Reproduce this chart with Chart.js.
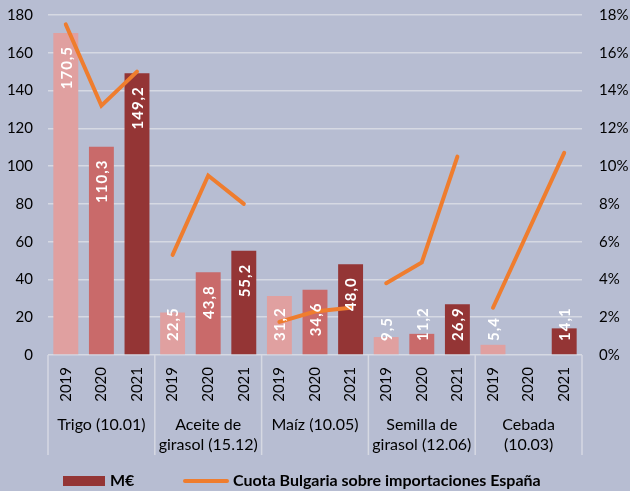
<!DOCTYPE html>
<html>
<head>
<meta charset="utf-8">
<script src="https://cdn.jsdelivr.net/npm/chart.js@4"></script>
<style>
  html, body { margin: 0; padding: 0; background: #b7bdd2; }
  #wrap { width: 630px; height: 491px; position: relative; }
</style>
</head>
<body>
<div id="wrap"><canvas id="c" width="630" height="491"></canvas></div>
<script>
// ---- data ----
const years = ['2019', '2020', '2021'];
const groups = [
  ['Trigo (10.01)'],
  ['Aceite de', 'girasol (15.12)'],
  ['Maíz (10.05)'],
  ['Semilla de', 'girasol (12.06)'],
  ['Cebada', '(10.03)']
];
const valoresMEUR = [170.5, 110.3, 149.2, 22.5, 43.8, 55.2, 31.2, 34.6, 48.0, 9.5, 11.2, 26.9, 5.4, null, 14.1];
const cuotaBulgaria = [17.5, 13.2, 15.0, 5.3, 9.5, 8.0, 1.75, 2.3, 2.5, 3.8, 4.9, 10.5, 2.5, null, 10.7];
const leftTicks = { min: 0, max: 180, step: 20 };
const rightTicks = { min: 0, max: 18, step: 2 };
const seriesNames = ['M€', 'Cuota Bulgaria sobre importaciones España'];

// ---- styles ----
const FONT = "Lato, 'Open Sans', sans-serif";
const BG = '#b7bdd2';
const GRID = '#d6d9e3';
const yearColors = ['#e0a0a0', '#c96a6a', '#943535'];
const ORANGE = '#ef7d2e';

const categories = [];
groups.forEach(() => years.forEach(y => categories.push(y)));
const barColors = categories.map((_, i) => yearColors[i % 3]);

const bgPlugin = {
  id: 'bg',
  beforeDraw(chart) {
    const ctx = chart.ctx;
    ctx.save();
    ctx.fillStyle = BG;
    ctx.fillRect(0, 0, chart.width, chart.height);
    ctx.restore();
  }
};

const groupPlugin = {
  id: 'groups',
  afterDraw(chart) {
    const ctx = chart.ctx;
    const xs = chart.scales.x;
    const area = chart.chartArea;
    const n = years.length;
    const half = (xs.getPixelForValue(1) - xs.getPixelForValue(0)) / 2;
    ctx.save();
    ctx.strokeStyle = GRID;
    ctx.lineWidth = 1.5;
    for (let g = 0; g <= groups.length; g++) {
      let x = g === 0 ? xs.getPixelForValue(0) - half : xs.getPixelForValue(g * n - 1) + half;
      ctx.beginPath();
      ctx.moveTo(x, area.bottom);
      ctx.lineTo(x, area.bottom + 100);
      ctx.stroke();
    }
    ctx.fillStyle = '#000';
    ctx.font = '16px ' + FONT;
    ctx.textAlign = 'center';
    ctx.textBaseline = 'middle';
    groups.forEach((lines, g) => {
      const cx = (xs.getPixelForValue(g * n) + xs.getPixelForValue(g * n + n - 1)) / 2;
      lines.forEach((t, k) => ctx.fillText(t, cx, area.bottom + 70 + k * 20));
    });
    ctx.restore();

    // legend
    const barDs = chart.data.datasets.find(d => d.type === 'bar');
    const lineDs = chart.data.datasets.find(d => d.type === 'line');
    const ly = 481;
    ctx.save();
    ctx.font = 'bold 16px ' + FONT;
    ctx.textBaseline = 'middle';
    ctx.textAlign = 'left';
    let x = 63;
    ctx.fillStyle = yearColors[2];
    ctx.fillRect(x, ly - 5, 42, 10);
    ctx.fillStyle = '#000';
    ctx.fillText(barDs.label, x + 47, ly);
    x = 183;
    ctx.strokeStyle = ORANGE;
    ctx.lineWidth = 4;
    ctx.lineCap = 'round';
    ctx.beginPath();
    ctx.moveTo(x + 2, ly);
    ctx.lineTo(x + 44, ly);
    ctx.stroke();
    ctx.fillText(lineDs.label, x + 50, ly);
    ctx.restore();
  }
};

const labelPlugin = {
  id: 'barLabels',
  afterDatasetsDraw(chart) {
    const ctx = chart.ctx;
    const idx = chart.data.datasets.findIndex(d => d.type === 'bar');
    const meta = chart.getDatasetMeta(idx);
    const base = chart.scales.y.getPixelForValue(0);
    ctx.save();
    ctx.font = 'bold 15px ' + FONT;
    try { ctx.letterSpacing = '1px'; } catch (e) {}
    ctx.fillStyle = '#ffffff';
    ctx.textAlign = 'right';
    ctx.textBaseline = 'middle';
    meta.data.forEach((bar, i) => {
      const v = valoresMEUR[i];
      if (v === null || v === undefined) return;
      const txt = v.toFixed(1).replace('.', ',');
      const w = ctx.measureText(txt).width;
      let top = bar.y + 13;
      if (top + w > base - 14) top = base - 14 - w;
      ctx.save();
      ctx.translate(bar.x + 1, top);
      ctx.rotate(-Math.PI / 2);
      ctx.fillText(txt, 0, 0);
      ctx.restore();
    });
    ctx.restore();
  }
};

const fixY = s => { s.width = 48; s.paddingTop = 0; s.paddingBottom = 0; };

new Chart(document.getElementById('c'), {
  data: {
    labels: categories,
    datasets: [
      {
        type: 'line',
        label: seriesNames[1],
        data: cuotaBulgaria,
        yAxisID: 'y1',
        borderColor: ORANGE,
        backgroundColor: ORANGE,
        borderWidth: 4,
        pointRadius: 0,
        pointHoverRadius: 0,
        spanGaps: true,
        tension: 0,
        borderCapStyle: 'round',
        borderJoinStyle: 'miter',
        order: 1,
        segment: {
          borderColor: c => (Math.floor(c.p0DataIndex / 3) !== Math.floor(c.p1DataIndex / 3)) ? 'rgba(0,0,0,0)' : ORANGE
        }
      },
      {
        type: 'bar',
        label: seriesNames[0],
        data: valoresMEUR,
        yAxisID: 'y',
        backgroundColor: barColors,
        barPercentage: 0.7,
        categoryPercentage: 1.0,
        order: 2
      }
    ]
  },
  options: {
    responsive: false,
    animation: false,
    events: [],
    layout: { padding: { top: 15, bottom: 31, left: 0, right: 0 } },
    plugins: {
      legend: { display: false },
      tooltip: { enabled: false },
      title: { display: false }
    },
    scales: {
      x: {
        type: 'category',
        offset: true,
        grid: { display: false, drawTicks: false },
        border: { display: false },
        ticks: {
          minRotation: 90, maxRotation: 90, padding: 12, autoSkip: false,
          color: '#000', font: { family: FONT, size: 15 }
        },
        afterFit: s => { s.height = 105; s.paddingLeft = 0; s.paddingRight = 0; }
      },
      y: {
        position: 'left',
        min: leftTicks.min, max: leftTicks.max,
        grid: { color: GRID, lineWidth: 1.5, drawTicks: false },
        border: { display: false },
        ticks: {
          stepSize: leftTicks.step, padding: 15,
          color: '#000', font: { family: FONT, size: 15 }
        },
        afterFit: fixY
      },
      y1: {
        position: 'right',
        min: rightTicks.min, max: rightTicks.max,
        grid: { drawOnChartArea: false, drawTicks: false },
        border: { display: false },
        ticks: {
          stepSize: rightTicks.step, padding: 17,
          color: '#000', font: { family: FONT, size: 15 },
          callback: v => v + '%'
        },
        afterFit: fixY
      }
    }
  },
  plugins: [bgPlugin, labelPlugin, groupPlugin]
});
</script>
</body>
</html>
